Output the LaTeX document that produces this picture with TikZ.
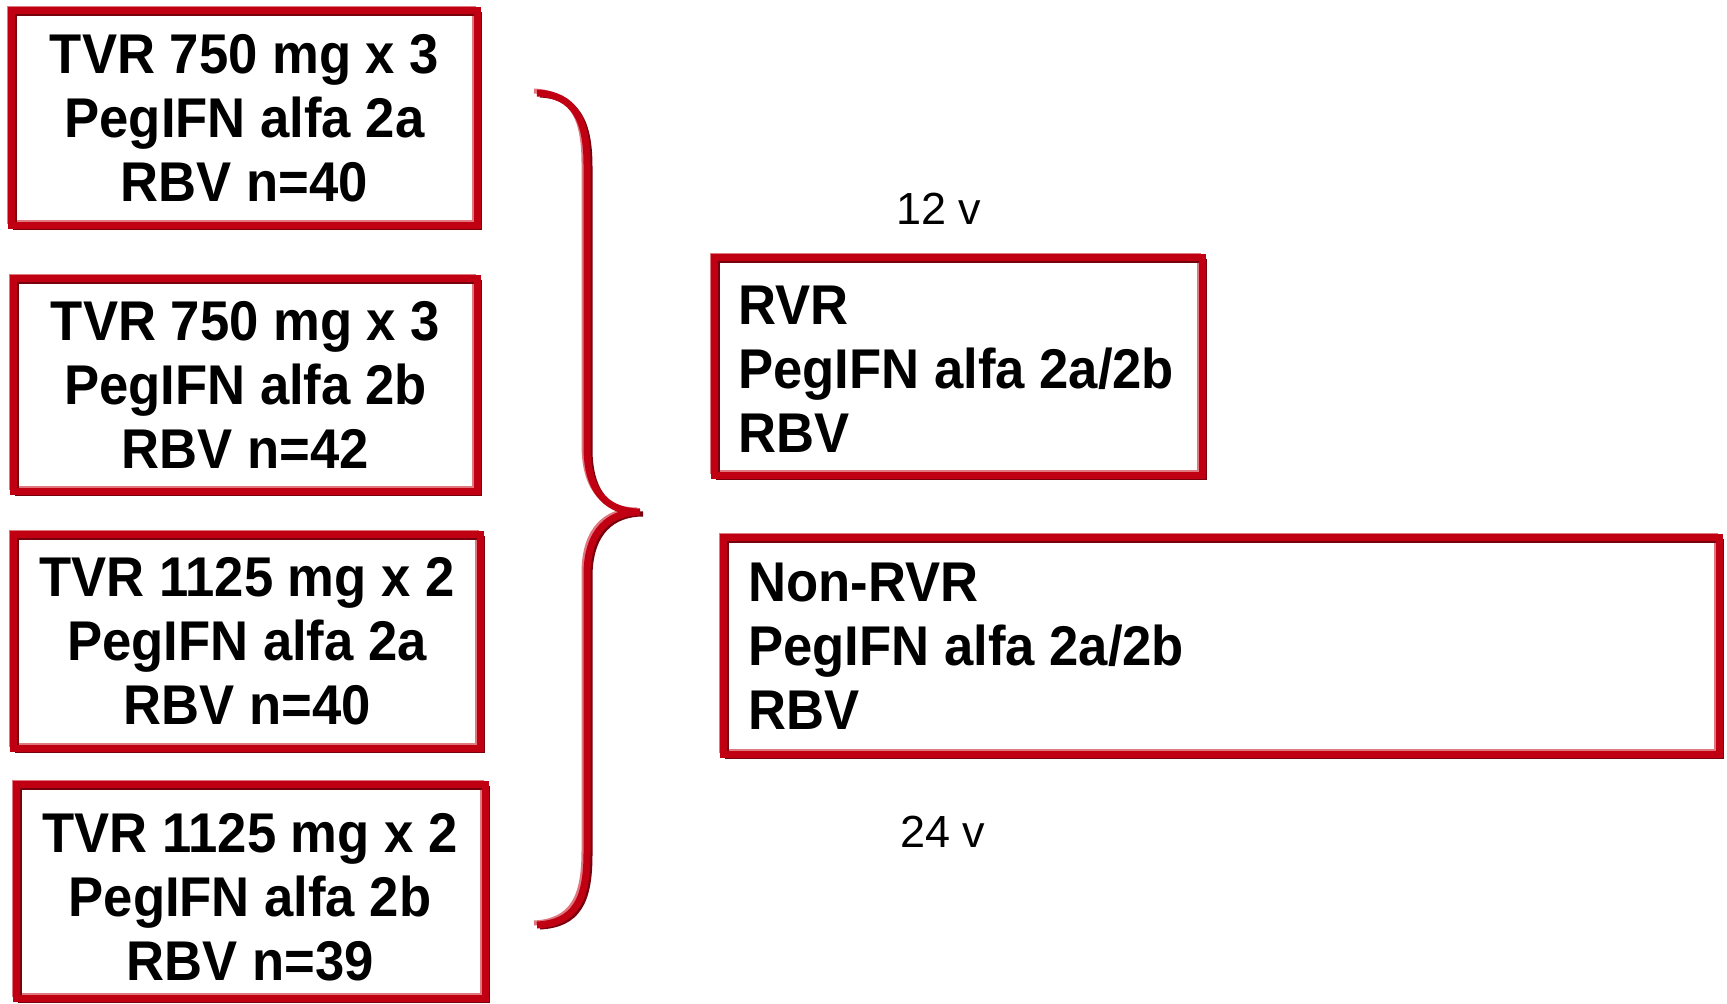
\documentclass[tikz,border=0pt]{standalone}
\usepackage{fontspec}
\setmainfont{Liberation Sans}
\newfontfamily\boxfont{Liberation Sans}[FakeStretch=0.94]
\definecolor{bred}{RGB}{192,0,18}
\definecolor{bdark}{RGB}{118,0,12}
\definecolor{blight}{RGB}{224,120,128}
\newcommand\mybracepath{(537,93) .. controls (575,95) and (587,120) .. (587,165) -- (587,447) .. controls (587,495) and (610,512) .. (640,512) .. controls (610,512) and (587,530) .. (587,575) -- (587,853) .. controls (587,900) and (575,923) .. (537,925)}
\begin{document}
\begin{tikzpicture}[x=1pt,y=-1pt,
  tbox/.style={inner sep=0pt, align=center, font=\boxfont\bfseries\fontsize{56}{64}\selectfont},
  ttext/.style={inner sep=0pt, align=left, anchor=north west, font=\boxfont\bfseries\fontsize{56}{64}\selectfont},
  wlabel/.style={inner sep=0pt, font=\fontsize{45}{50}\selectfont}]
\useasboundingbox[fill=white] (0,0) rectangle (1727,1004);
% left boxes
\node[tbox, minimum width=465pt, minimum height=214pt] (b1) at (244.5,118) {TVR 750 mg x 3\\PegIFN alfa 2a\\RBV n=40};
\node[tbox, minimum width=463pt, minimum height=212pt] (b2) at (245.5,385) {TVR 750 mg x 3\\PegIFN alfa 2b\\RBV n=42};
\node[tbox, minimum width=466pt, minimum height=213pt] (b3) at (247,641.5) {TVR 1125 mg x 2\\PegIFN alfa 2a\\RBV n=40};
\node[inner sep=0pt, minimum width=468pt, minimum height=213pt] (b4) at (251,891.5) {};
\node[tbox] (b4t) at (250,897) {TVR 1125 mg x 2\\PegIFN alfa 2b\\RBV n=39};
% right boxes
\node[inner sep=0pt, minimum width=487pt, minimum height=217pt] (rvr) at (958.5,366.5) {};
\node[inner sep=0pt, minimum width=995pt, minimum height=216pt] (nrvr) at (1221.5,646) {};
\node[ttext] (rvrt) at (738,286) {RVR\\PegIFN alfa 2a/2b\\RBV};
\node[ttext] (nrvrt) at (748,563) {Non-RVR\\PegIFN alfa 2a/2b\\RBV};
% week labels
\node[wlabel] (w12) at (939,209) {12 v};
\node[wlabel] (w24) at (943,832) {24 v};
% bevelled borders
\foreach \n in {b1,b2,b3,b4,rvr,nrvr}{
  \draw[blight, line width=4pt] ([shift={(-3,-3)}]\n.north west) rectangle ([shift={(-3,-3)}]\n.south east);
  \draw[bdark, line width=4pt] ([shift={(3,3)}]\n.north west) rectangle ([shift={(3,3)}]\n.south east);
  \draw[bred, line width=7pt] (\n.north west) rectangle (\n.south east);
}
% brace
\draw[blight, line width=5pt, xshift=-3pt, yshift=2pt] \mybracepath;
\draw[bdark, line width=5pt, xshift=3pt, yshift=-2pt] \mybracepath;
\draw[bred, line width=7pt] \mybracepath;
\end{tikzpicture}
\end{document}
